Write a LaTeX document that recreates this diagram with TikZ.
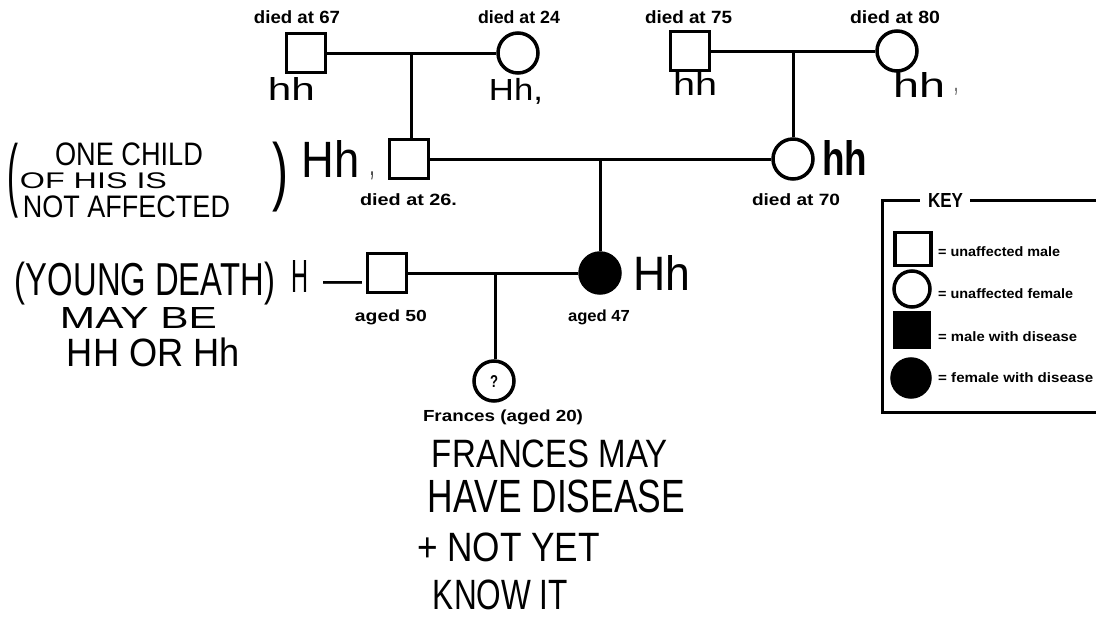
\documentclass[tikz,border=0pt]{standalone}
\usepackage{fontspec}
\setmainfont{Liberation Sans}
\newfontfamily\handfont{Liberation Sans}
% scale a piece of text to a given width and total height (in pt)
\newcommand{\fitbox}[3]{\resizebox*{#1pt}{#2pt}{#3}}
\tikzset{
  person/.style={draw, line width=3.5pt, inner sep=0pt},
  male/.style={person, rectangle, minimum size=39pt},
  female/.style={person, circle, minimum size=40pt},
  affected/.style={fill=black},
  tie/.style={line width=3pt},
  keyframe/.style={line width=3pt},
  lbl/.style={inner sep=0pt, font=\bfseries},
  hand/.style={inner sep=0pt, font=\handfont},
}
\begin{document}
\begin{tikzpicture}[x=1pt, y=-1pt]
\useasboundingbox (0,0) rectangle (1096,621);

% ---- family tree ----
\node[male] (A) at (306,53) {};
\node[female] (B) at (518,53) {};
\node[male] (C) at (690,51) {};
\node[female] (D) at (897,51) {};
\node[male] (E) at (409,159) {};
\node[female] (F) at (793,159) {};
\node[male] (G) at (387,273) {};
\node[female, affected] (H) at (600,273) {};
\node[female] (I) at (494,381) {};
\node[lbl] (Iq) at (I.center) {\fitbox{8}{12}{?}};

\draw[tie] (A) -- (B);
\coordinate (m1) at (411,53);
\draw[tie] (m1) -- (m1 |- E.north);
\draw[tie] (C) -- (D);
\coordinate (m2) at (793,51);
\draw[tie] (m2) -- (F);
\draw[tie] (E) -- (F);
\coordinate (m3) at (600,159);
\draw[tie] (m3) -- (H);
\draw[tie] (G) -- (H);
\coordinate (m4) at (495,273);
\draw[tie] (m4) -- (m4 |- I.north);

% ---- printed labels ----
\node[lbl] (lA) at (297,17.5) {\fitbox{86}{13}{died at 67}};
\node[lbl] (lB) at (519,17.5) {\fitbox{82}{13}{died at 24}};
\node[lbl] (lC) at (688.5,17.5) {\fitbox{87}{13}{died at 75}};
\node[lbl] (lD) at (895,17.5) {\fitbox{90}{13}{died at 80}};
\node[lbl] (lE) at (408.5,200) {\fitbox{97}{12}{died at 26.}};
\node[lbl] (lF) at (796,200) {\fitbox{88}{12}{died at 70}};
\node[lbl] (lG) at (391,317.5) {\fitbox{72}{15}{aged 50}};
\node[lbl] (lH) at (599,317.5) {\fitbox{62}{15}{aged 47}};
\node[lbl] (lI) at (503,417.5) {\fitbox{160}{15}{Frances (aged 20)}};

% ---- key ----
\node[lbl] (keytitle) at (945.5,200) {\fitbox{35}{14}{KEY}};
\draw[keyframe] ([xshift=-8pt]keytitle.west) -- (882,200) -- (882,412) -- (1096,412);
\draw[keyframe] ([xshift=7pt]keytitle.east) -- (1096,200);
\node[male, minimum width=36pt, minimum height=33pt] (k1) at (913,249) {};
\node[female, minimum size=36pt] (k2) at (912,289) {};
\node[male, affected, minimum width=35pt, minimum height=34pt] (k3) at (912,330) {};
\node[female, affected, minimum size=38pt] (k4) at (911,378) {};
\node[lbl, anchor=west] (kt1) at (938,252) {\fitbox{122}{10}{= unaffected male}};
\node[lbl, anchor=west] (kt2) at (938,293.5) {\fitbox{135}{10}{= unaffected female}};
\node[lbl, anchor=west] (kt3) at (938,337) {\fitbox{139}{10}{= male with disease}};
\node[lbl, anchor=west] (kt4) at (938,378) {\fitbox{155}{10}{= female with disease}};

% ---- handwritten notes ----
\node[hand] (hA) at (291.5,88.5) {\fitbox{47}{23}{hh}};
\node[hand] (hB) at (516,91.5) {\fitbox{54}{26}{Hh,}};
\node[hand] (hC) at (695,83.5) {\fitbox{44}{23}{hh}};
\node[hand] (hD) at (919,84.5) {\fitbox{52}{25}{hh}};
\node[hand] (hDc) at (956,92) {\fitbox{3}{7}{,}};
\node[hand] (hE) at (331,158.5) {\fitbox{58}{37}{Hh}};
\node[hand] (hEc) at (372,176) {\fitbox{4}{8}{,}};
\node[hand, font=\handfont\bfseries] (hF) at (844.5,157.5) {\fitbox{45}{35}{hh}};
\node[hand] (pl1) at (13,180.5) {\fitbox{11}{75}{(}};
\node[hand] (n1) at (129,154.5) {\fitbox{148}{23}{ONE CHILD}};
\node[hand] (n2) at (93.5,181) {\fitbox{147}{16}{OF HIS IS}};
\node[hand] (n3) at (126.5,207) {\fitbox{207}{22}{NOT AFFECTED}};
\node[hand] (pr1) at (280,177) {\fitbox{16}{70}{)}};
\node[hand] (n4) at (145,283.5) {\fitbox{260}{43}{(YOUNG DEATH)}};
\node[hand] (hG) at (300,276) {\fitbox{17}{32}{H}};
\node[hand] (hGd) at (342.5,287) {\fitbox{39}{12}{—}};
\node[hand] (n5) at (138.5,317.5) {\fitbox{157}{21}{MAY BE}};
\node[hand] (n6) at (153.5,352.5) {\fitbox{173}{29}{HH OR Hh}};
\node[hand] (hH) at (661.5,272.5) {\fitbox{57}{35}{Hh}};
\node[hand] (f1) at (550,454) {\fitbox{236}{28}{FRANCES MAY}};
\node[hand] (f2) at (556.5,496.5) {\fitbox{257}{33}{HAVE DISEASE}};
\node[hand] (f3) at (508.5,547.5) {\fitbox{183}{29}{+ NOT YET}};
\node[hand] (f4) at (500.5,595) {\fitbox{135}{30}{KNOW IT}};
\end{tikzpicture}
\end{document}
